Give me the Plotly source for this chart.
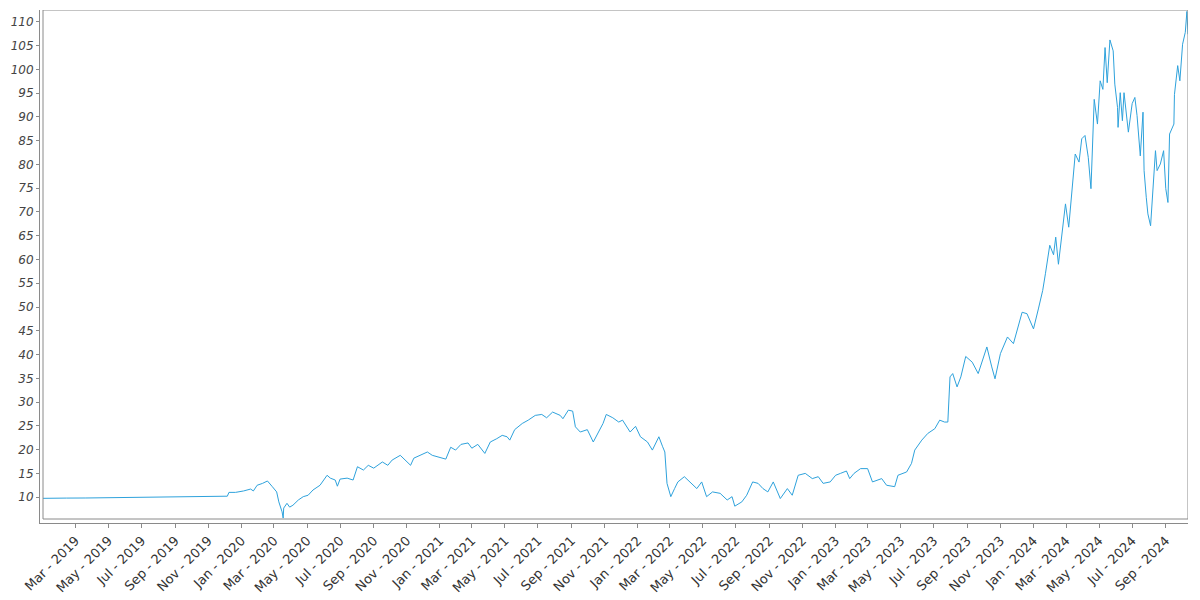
import plotly.graph_objects as go
import pandas as pd

# ---- data ----
dates = [
    "2018-12-31", "2019-01-25", "2019-02-10", "2019-02-12", "2019-03-20", "2019-04-15",
    "2019-05-10", "2019-05-14", "2019-06-20", "2019-07-25", "2019-08-20", "2019-08-23",
    "2019-09-25", "2019-10-20", "2019-11-15", "2019-12-06",
    "2019-12-09", "2019-12-21", "2020-01-05", "2020-01-18", "2020-01-23", "2020-01-30",
    "2020-02-09", "2020-02-18", "2020-02-27", "2020-03-06", "2020-03-10", "2020-03-16",
    "2020-03-18", "2020-03-19", "2020-03-25", "2020-03-30", "2020-04-05", "2020-04-15",
    "2020-04-24", "2020-05-03", "2020-05-12", "2020-05-25", "2020-06-07", "2020-06-13",
    "2020-06-22", "2020-06-26", "2020-07-01", "2020-07-14", "2020-07-25", "2020-08-02",
    "2020-08-13", "2020-08-22", "2020-09-01", "2020-09-17", "2020-09-27", "2020-10-05",
    "2020-10-20", "2020-10-30", "2020-11-08", "2020-11-14", "2020-11-27", "2020-12-09",
    "2020-12-18", "2020-12-29", "2021-01-12", "2021-01-21", "2021-01-30", "2021-02-09",
    "2021-02-22", "2021-03-01", "2021-03-12", "2021-03-25", "2021-04-04", "2021-04-16",
    "2021-04-26", "2021-05-05", "2021-05-10", "2021-05-19", "2021-06-02", "2021-06-13",
    "2021-06-26", "2021-07-08", "2021-07-17", "2021-07-28", "2021-08-11", "2021-08-16",
    "2021-08-26", "2021-09-03", "2021-09-08", "2021-09-17", "2021-09-30", "2021-10-11",
    "2021-10-20", "2021-10-29", "2021-11-04", "2021-11-16", "2021-11-27", "2021-12-04",
    "2021-12-18", "2021-12-28", "2022-01-06", "2022-01-19", "2022-01-28", "2022-02-09",
    "2022-02-16", "2022-02-20", "2022-02-24", "2022-03-03", "2022-03-10", "2022-03-16",
    "2022-03-28", "2022-04-11", "2022-04-20", "2022-04-29", "2022-05-08", "2022-05-19",
    "2022-06-02", "2022-06-15", "2022-06-24", "2022-06-29", "2022-07-12", "2022-07-21",
    "2022-08-01", "2022-08-11", "2022-08-20", "2022-08-29", "2022-09-08", "2022-09-21",
    "2022-10-04", "2022-10-13", "2022-10-24", "2022-11-06", "2022-11-19", "2022-11-30",
    "2022-12-09", "2022-12-22", "2023-01-01", "2023-01-10", "2023-01-21", "2023-01-27",
    "2023-02-04", "2023-02-16", "2023-03-01", "2023-03-10", "2023-03-27", "2023-04-05",
    "2023-04-20", "2023-04-26", "2023-05-12", "2023-05-21", "2023-05-27", "2023-06-09",
    "2023-06-20", "2023-07-03", "2023-07-12", "2023-07-21", "2023-07-27", "2023-07-31",
    "2023-08-05", "2023-08-13", "2023-08-20", "2023-08-29", "2023-09-10", "2023-09-21",
    "2023-10-07", "2023-10-16", "2023-10-22", "2023-11-01", "2023-11-14", "2023-11-25",
    "2023-12-02", "2023-12-11", "2023-12-20", "2024-01-01", "2024-01-10", "2024-01-18",
    "2024-01-23", "2024-01-31", "2024-02-07", "2024-02-11", "2024-02-16", "2024-02-24",
    "2024-02-29", "2024-03-06", "2024-03-12", "2024-03-18", "2024-03-25", "2024-03-30",
    "2024-04-05", "2024-04-11", "2024-04-16", "2024-04-22", "2024-04-28", "2024-05-03",
    "2024-05-08", "2024-05-12", "2024-05-16", "2024-05-21", "2024-05-27", "2024-05-30",
    "2024-06-04", "2024-06-05", "2024-06-09", "2024-06-13", "2024-06-16", "2024-06-22",
    "2024-06-24", "2024-07-01", "2024-07-06", "2024-07-10", "2024-07-16", "2024-07-21",
    "2024-07-23", "2024-07-27", "2024-07-30", "2024-08-04", "2024-08-09", "2024-08-13",
    "2024-08-16", "2024-08-22", "2024-08-28", "2024-09-01", "2024-09-05", "2024-09-08",
    "2024-09-16", "2024-09-17", "2024-09-23", "2024-09-27", "2024-10-02", "2024-10-07",
    "2024-10-10", "2024-10-12",
]

values = [
    9.75, 9.78, 9.95, 9.8, 9.82, 9.85,
    9.9, 10.0, 9.95, 10.0, 10.05, 10.15,
    10.1, 10.12, 10.15, 10.2,
    11.0, 11.0, 11.3, 11.7, 11.3, 12.5,
    12.9, 13.4, 12.2, 11.1, 9.0, 6.9,
    5.6, 7.7, 8.7, 7.9, 8.3, 9.4,
    10.1, 10.4, 11.5, 12.5, 14.6, 14.0,
    13.6, 12.3, 13.8, 14.0, 13.6, 16.4,
    15.7, 16.7, 16.1, 17.4, 16.7, 17.8,
    18.8, 17.8, 16.7, 18.2, 18.8, 19.5,
    18.8, 18.5, 18.0, 20.5, 19.9, 21.1,
    21.4, 20.3, 21.1, 19.2, 21.6, 22.3,
    23.0, 22.7, 22.0, 24.2, 25.5, 26.2,
    27.2, 27.4, 26.7, 27.9, 27.2, 26.5,
    28.3, 28.1, 24.8, 23.7, 24.2, 21.6,
    23.7, 25.5, 27.4, 26.7, 25.8, 26.2,
    23.7, 24.9, 22.7, 21.6, 19.9, 22.7,
    20.6, 19.5, 12.9, 10.1, 11.8, 13.2,
    14.3, 12.9, 11.8, 13.2, 10.1, 11.1,
    10.8, 9.4, 10.1, 8.1, 9.0, 10.4,
    13.2, 12.9, 11.8, 11.1, 13.2, 9.7,
    11.8, 10.4, 14.6, 15.0, 13.9, 14.3,
    12.9, 13.2, 14.6, 15.0, 15.5, 13.9,
    15.0, 16.0, 16.0, 13.2, 13.9, 12.5,
    12.2, 14.6, 15.3, 17.1, 19.9, 22.0,
    23.4, 24.4, 26.2, 25.8, 25.8, 35.3,
    36.0, 33.2, 35.3, 39.6, 38.4, 36.0,
    41.6, 37.4, 34.9, 40.2, 43.7, 42.3,
    45.1, 48.9, 48.6, 45.4, 49.6, 53.5,
    57.0, 63.0, 61.0, 64.7, 59.0, 66.1,
    71.7, 66.8, 73.8, 82.2, 80.5, 85.4,
    86.1, 81.5, 74.9, 93.7, 88.5, 97.6,
    95.8, 104.6, 97.2, 106.2, 103.9, 96.9,
    92.0, 87.8, 95.1, 89.2, 95.1, 89.6,
    86.8, 92.8, 94.1, 90.3, 81.8, 91.0,
    78.7, 73.1, 69.6, 67.1, 76.2, 82.9,
    78.7, 80.1, 82.9, 74.9, 72.0, 86.4,
    88.5, 94.7, 100.8, 97.6, 105.3, 107.8,
    112.2, 107.4,
]

y_tick_values = list(range(10, 115, 5))
x_tick_dates = [
    "2019-03-01", "2019-05-01", "2019-07-01", "2019-09-01", "2019-11-01",
    "2020-01-01", "2020-03-01", "2020-05-01", "2020-07-01", "2020-09-01", "2020-11-01",
    "2021-01-01", "2021-03-01", "2021-05-01", "2021-07-01", "2021-09-01", "2021-11-01",
    "2022-01-01", "2022-03-01", "2022-05-01", "2022-07-01", "2022-09-01", "2022-11-01",
    "2023-01-01", "2023-03-01", "2023-05-01", "2023-07-01", "2023-09-01", "2023-11-01",
    "2024-01-01", "2024-03-01", "2024-05-01", "2024-07-01", "2024-09-01",
]
x_tick_labels = [pd.Timestamp(d).strftime("%b - %Y") for d in x_tick_dates]

Y_LO, Y_HI = 5.4, 112.5

# ---- layout helpers ----
d = pd.to_datetime(dates)
d0, d1 = d.min(), d.max()
x_pad = (d1 - d0) * (3 / 1145)
y_pad = (Y_HI - Y_LO) * 4 / 509

AXIS = "#8a8a8a"

fig = go.Figure(
    go.Scatter(
        x=dates, y=values, mode="lines",
        line=dict(color="#2ea2dc", width=1),
        hoverinfo="x+y",
    )
)

# page body has an 8px margin, so the figure is 8px smaller than the window
fig.update_layout(
    width=1192, height=592,
    margin=dict(l=32, r=12, t=2, b=77),
    plot_bgcolor="white", paper_bgcolor="white",
    showlegend=False,
)

fig.update_xaxes(
    range=[d0 - x_pad, d1],
    showgrid=False, zeroline=False,
    showline=True, linecolor=AXIS, linewidth=1,
    ticks="outside", ticklen=4, tickcolor=AXIS, tickwidth=1,
    tickvals=x_tick_dates, ticktext=x_tick_labels,
    tickangle=-45,
    tickfont=dict(family="DejaVu Sans", size=13, color="#333333"),
)

fig.update_yaxes(
    range=[Y_LO - y_pad, Y_HI],
    showgrid=False, zeroline=False,
    showline=True, linecolor=AXIS, linewidth=1,
    ticks="outside", ticklen=3, tickcolor=AXIS, tickwidth=1,
    tickvals=y_tick_values,
    tickfont=dict(family="DejaVu Sans", size=12, color="#444444", style="italic"),
)

fig.add_shape(
    type="rect", xref="x", yref="y",
    x0=d0, x1=d1, y0=Y_LO, y1=Y_HI,
    line=dict(color=AXIS, width=1), layer="above",
)

fig.write_html("out.html")
